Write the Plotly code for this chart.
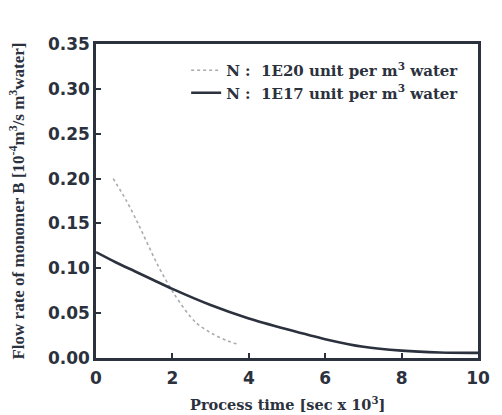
import plotly.graph_objects as go

# Process time (x 10^3 s) and flow rate of monomer B (10^-4 m^3 / s m^3 water)
time_n1e17 = [0.0, 0.5, 1.0, 1.5, 2.0, 3.0, 4.0, 5.0, 6.0, 7.0, 8.0, 9.0, 10.0]
flow_n1e17 = [0.118, 0.107, 0.097, 0.087, 0.077, 0.059, 0.044, 0.032, 0.021, 0.0125, 0.0082, 0.0062, 0.0057]

time_n1e20 = [0.45, 0.8, 1.1, 1.6, 2.05, 2.6, 3.05, 3.45, 3.75]
flow_n1e20 = [0.200, 0.175, 0.150, 0.105, 0.071, 0.040, 0.027, 0.019, 0.015]

legend_n1e20 = "<b>N :  1E20 unit per m<sup>3</sup> water</b>"
legend_n1e17 = "<b>N :  1E17 unit per m<sup>3</sup> water</b>"

x_ticks = [0, 2, 4, 6, 8, 10]
x_tick_text = ["0", "2", "4", "6", "8", "10"]
y_ticks = [0.0, 0.05, 0.10, 0.15, 0.20, 0.25, 0.30, 0.35]

ink = "#2b313d"

fig = go.Figure()
fig.add_trace(go.Scatter(
    x=time_n1e20, y=flow_n1e20, mode="lines", name=legend_n1e20,
    line=dict(color="#a9abb0", width=1.6, dash="dot", shape="spline", smoothing=0.8),
))
fig.add_trace(go.Scatter(
    x=time_n1e17, y=flow_n1e17, mode="lines", name=legend_n1e17,
    line=dict(color=ink, width=2.6, shape="spline", smoothing=0.7),
))

axis_common = dict(
    showline=True, linewidth=2.5, linecolor=ink, mirror=True,
    ticks="inside", ticklen=5, tickwidth=1.5, tickcolor=ink,
    showgrid=False, zeroline=False,
)
tick_font = dict(family="DejaVu Sans", size=17, color=ink, weight="bold")

fig.update_xaxes(
    range=[0, 10], tickvals=x_ticks, ticktext=x_tick_text,
    tickfont=tick_font, ticklabelstandoff=3,
    **axis_common,
)
fig.update_yaxes(
    range=[0, 0.35], tickvals=y_ticks, tickformat=".2f",
    tickfont=tick_font,
    **axis_common,
)

fig.add_annotation(
    text="<b>Process time [sec x 10<sup>3</sup>]</b>",
    xref="paper", yref="paper", x=0.5, y=-0.145, xanchor="center", yanchor="middle",
    showarrow=False, font=dict(family="DejaVu Serif", size=14.5, color=ink),
)
fig.add_annotation(
    text="<b>Flow rate of monomer B [10<sup>-4</sup>m<sup>3</sup>/s m<sup>3</sup>water]</b>",
    xref="paper", yref="paper", x=-0.208, y=0.5, xanchor="center", yanchor="middle",
    textangle=-90, showarrow=False, font=dict(family="Liberation Serif", size=17, color=ink),
)

fig.update_layout(
    width=502, height=415,
    margin=dict(l=96, r=12, t=44, b=57),
    paper_bgcolor="white", plot_bgcolor="white",
    showlegend=True,
    legend=dict(
        x=0.236, y=0.968, xanchor="left", yanchor="top",
        bgcolor="rgba(0,0,0,0)", borderwidth=0,
        font=dict(family="DejaVu Serif", size=15, color=ink),
        itemwidth=30, tracegroupgap=0,
    ),
)

fig.write_html("out.html")
